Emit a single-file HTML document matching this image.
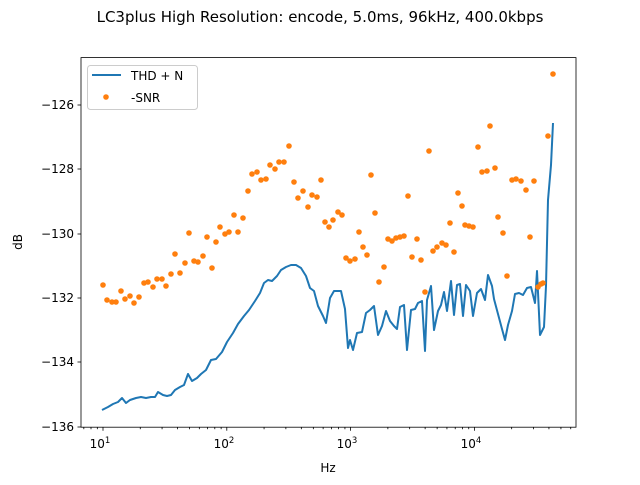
<!DOCTYPE html>
<html><head><meta charset="utf-8"><style>
html,body{margin:0;padding:0;background:#fff;}
svg text{font-family:"DejaVu Sans","Liberation Sans",sans-serif;fill:#000;}
</style></head><body>
<svg id="s" width="640" height="480" viewBox="0 0 640 480" xmlns="http://www.w3.org/2000/svg">
<rect width="640" height="480" fill="#fff"/>
<text x="320" y="22" font-size="15" text-anchor="middle">LC3plus High Resolution: encode, 5.0ms, 96kHz, 400.0kbps</text>
<g id="ticks" stroke="#000" stroke-width="0.8"></g>
<g font-size="12" text-anchor="end">
<text x="74" y="109">−126</text>
<text x="74" y="173">−128</text>
<text x="74" y="238">−130</text>
<text x="74" y="302">−132</text>
<text x="74" y="366">−134</text>
<text x="74" y="431">−136</text>
</g>
<g font-size="12" text-anchor="middle">
<text x="100" y="448">10<tspan font-size="8.5" dy="-5">1</tspan></text>
<text x="224" y="448">10<tspan font-size="8.5" dy="-5">2</tspan></text>
<text x="347" y="448">10<tspan font-size="8.5" dy="-5">3</tspan></text>
<text x="471" y="448">10<tspan font-size="8.5" dy="-5">4</tspan></text>
</g>
<text x="328" y="472" font-size="12" text-anchor="middle">Hz</text>
<text transform="translate(22,242) rotate(-90)" font-size="12" text-anchor="middle">dB</text>
<polyline fill="none" stroke="#1f77b4" stroke-width="2" stroke-linejoin="round" points="102,410 108,407 113,404 118,402 122,398 126,403 130,400 136,398 141,397 146,398 151,397 155,397 158,392 163,395 167,396 171,395 175,390 180,387 184,385 188,374 192,381 197,378 201,374 206,370 211,360 216,359 222,352 227,342 233,333 238,324 244,316 249,310 255,301 260,293 264,283 268,280 272,281 277,276 281,270 286,267 291,265 296,265 301,268 306,276 310,288 314,291 318,306 323,316 326,323 330,298 334,291 338,291 341,291 345,309 348,348 350,340 353,350 357,333 362,332 366,313 370,310 374,306 378,335 382,326 386,311 390,321 394,326 397,329 400,307 404,305 407,350 411,310 415,309 418,303 422,301 425,351 427,300 431,286 434,330 438,311 441,305 444,292 447,311 451,281 454,315 457,285 460,284 463,316 466,285 470,291 473,316 477,293 481,289 485,300 488,275 492,286 494,299 498,314 502,329 505,340 508,325 512,311 515,294 519,293 523,295 527,288 531,287 535,303 537,271 540,335 544,327 546,286 548,200 551,165 553,123"/>
<g id="dots" fill="#ff7f0e"></g>
<rect x="81" y="57.6" width="495" height="369.6" fill="none" stroke="#000" stroke-width="0.8"/>
<rect x="87.5" y="65.5" width="110" height="44" rx="3" fill="#fff" fill-opacity="0.8" stroke="#ccc" stroke-width="1"/>
<line x1="92" y1="75" x2="121" y2="75" stroke="#1f77b4" stroke-width="2"/>
<text x="131" y="80" font-size="12">THD + N</text>
<circle cx="106" cy="97" r="2.8" fill="#ff7f0e"/>
<text x="131" y="102" font-size="12">-SNR</text>
</svg>
<script>
var ns="http://www.w3.org/2000/svg";
var t=document.getElementById("ticks");
function ln(x1,y1,x2,y2){var l=document.createElementNS(ns,"line");l.setAttribute("x1",x1);l.setAttribute("y1",y1);l.setAttribute("x2",x2);l.setAttribute("y2",y2);t.appendChild(l);}
[105,169,234,298,362,427].forEach(function(y){ln(77.5,y,81,y);});
for(var d=0;d<5;d++){for(var m=1;m<10;m++){var x=103+123.8*(d-1+Math.log10(m));if(x<81||x>576)continue;ln(x,427.2,x,m==1?430.7:429.2);}}
var p=[103,285,107,300,112,302,116,302,121,291,125,299,130,296,134,303,139,297,144,283,148,282,153,287,157,279,162,279,166,286,171,274,175,254,180,273,185,263,189,233,194,261,198,262,203,256,207,237,212,268,216,242,220,227,225,234,229,232,234,215,238,232,243,218,248,191,252,174,257,172,261,180,266,179,270,165,275,169,279,162,284,162,289,146,294,182,298,198,303,191,308,207,312,195,317,197,321,180,325,222,329,227,333,220,338,212,342,215,346,258,350,261,355,259,359,232,363,247,367,255,371,175,375,213,379,282,384,267,388,239,392,241,396,238,400,237,404,236,408,196,412,257,417,239,421,260,425,292,429,151,433,251,437,247,442,243,446,245,450,223,454,252,458,193,462,206,465,225,469,226,473,227,478,147,482,172,487,171,490,126,495,168,498,217,503,233,507,276,512,180,516,179,521,181,526,190,530,237,534,181,538,287,541,284,543,283,548,136,553,74];
var g=document.getElementById("dots");
for(var i=0;i<p.length;i+=2){var c=document.createElementNS(ns,"circle");c.setAttribute("cx",p[i]);c.setAttribute("cy",p[i+1]);c.setAttribute("r",2.8);g.appendChild(c);}
</script>
</body></html>
